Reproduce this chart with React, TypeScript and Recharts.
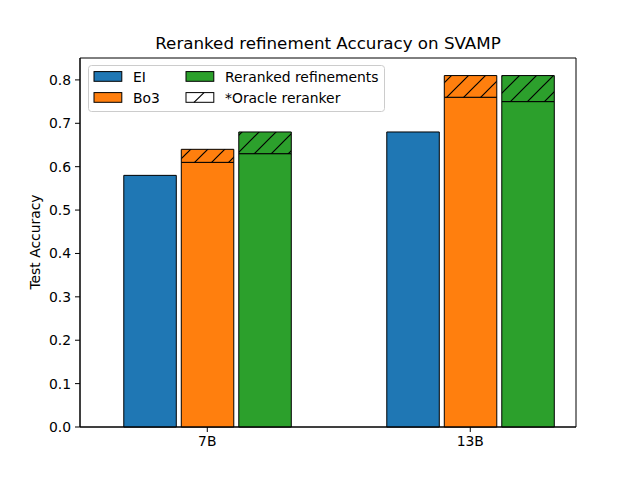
import React from "react";
import { BarChart, Bar, XAxis, YAxis, ReferenceArea } from "recharts";

const categories = ["7B", "13B"];
const eiAcc = [0.58, 0.68];
const bo3Acc = [0.61, 0.76];
const bo3OracleAcc = [0.64, 0.81];
const rerankedAcc = [0.63, 0.75];
const rerankedOracleAcc = [0.68, 0.81];
const yTicks = [0, 0.1, 0.2, 0.3, 0.4, 0.5, 0.6, 0.7, 0.8];

const COLORS = { ei: "#1f77b4", bo3: "#ff7f0e", reranked: "#2ca02c" };
const FONT = "'DejaVu Sans', sans-serif";

// stacked: base accuracy + oracle gain on top
const data = categories.map((name, i) => ({
  pos: i,
  name,
  ei: eiAcc[i],
  bo3: bo3Acc[i],
  bo3Oracle: +(bo3OracleAcc[i] - bo3Acc[i]).toFixed(4),
  reranked: rerankedAcc[i],
  rerankedOracle: +(rerankedOracleAcc[i] - rerankedAcc[i]).toFixed(4),
}));

const X_DOMAIN: [number, number] = [-0.484, 1.402];
const Y_MAX = 0.8505;

const legendItems = [
  { label: "EI", fill: COLORS.ei, col: 0, row: 0, hatch: false },
  { label: "Bo3", fill: COLORS.bo3, col: 0, row: 1, hatch: false },
  { label: "Reranked refinements", fill: COLORS.reranked, col: 1, row: 0, hatch: false },
  { label: "*Oracle reranker", fill: "#fff", col: 1, row: 1, hatch: true },
];

const Hatch = ({ id, bg }: { id: string; bg: string }) => (
  <pattern id={id} patternUnits="userSpaceOnUse" width={17} height={17}>
    <rect width={17} height={17} fill={bg} />
    <path d="M0,17 L17,0 M-4,4 L4,-4 M13,21 L21,13" stroke="#000" strokeWidth={1.2} />
  </pattern>
);

const LegendBox = () => {
  const colPatch = [6, 98];
  const colText = [45, 137];
  const rowY = [11.5, 32.5];
  return (
    <svg width={297} height={47} style={{ display: "block" }}>
      <rect x={0.5} y={0.5} width={296} height={46} rx={3} fill="#fff" fillOpacity={0.8} stroke="#cccccc" />
      {legendItems.map((it) => {
        const px = colPatch[it.col];
        const cy = rowY[it.row];
        return (
          <g key={it.label}>
            <rect x={px} y={cy - 4.9} width={27.8} height={9.7} fill={it.fill} stroke="#000" strokeWidth={1} />
            {it.hatch && (
              <line x1={px + 8} y1={cy + 4.9} x2={px + 18} y2={cy - 4.9} stroke="#000" strokeWidth={1.2} />
            )}
            <text x={colText[it.col]} y={cy} dominantBaseline="central" fontSize={13.9} fontFamily={FONT} fill="#000">
              {it.label}
            </text>
          </g>
        );
      })}
    </svg>
  );
};

const tickStyle = { fill: "#000", fontSize: 13.9, fontFamily: FONT };

export default function App() {
  return (
    <div style={{ position: "absolute", left: 0, top: 0, width: 640, height: 480, background: "#fff" }}>
      <BarChart
        width={640}
        height={480}
        data={data}
        margin={{ top: 58, right: 64, bottom: 23, left: 30 }}
        barSize={52.5}
        barGap={5}
      >
        <defs>
          <Hatch id="hatchOrange" bg={COLORS.bo3} />
          <Hatch id="hatchGreen" bg={COLORS.reranked} />
        </defs>
        <text x={328} y={49} textAnchor="middle" fontSize={16.7} fontFamily={FONT} fill="#000">
          Reranked refinement Accuracy on SVAMP
        </text>
        <XAxis
          dataKey="pos"
          type="number"
          domain={X_DOMAIN}
          allowDataOverflow
          ticks={[0, 1]}
          tickFormatter={(v) => categories[v]}
          height={30}
          tickSize={5}
          tickMargin={4}
          stroke="#000"
          tick={tickStyle}
        />
        <YAxis
          type="number"
          domain={[0, Y_MAX]}
          ticks={yTicks}
          tickFormatter={(v) => v.toFixed(1)}
          width={50}
          tickSize={5}
          tickMargin={4}
          stroke="#000"
          tick={tickStyle}
          label={{
            content: () => (
              <text
                x={35}
                y={242}
                transform="rotate(-90 35 242)"
                textAnchor="middle"
                dominantBaseline="central"
                fontSize={13.9}
                fontFamily={FONT}
                fill="#000"
              >
                Test Accuracy
              </text>
            ),
          }}
        />
        <Bar dataKey="ei" name="EI" stackId="ei" fill={COLORS.ei} stroke="#000" strokeWidth={1} isAnimationActive={false} />
        <Bar dataKey="bo3" name="Bo3" stackId="bo3" fill={COLORS.bo3} stroke="#000" strokeWidth={1} isAnimationActive={false} />
        <Bar dataKey="bo3Oracle" stackId="bo3" fill="url(#hatchOrange)" stroke="#000" strokeWidth={1} isAnimationActive={false} />
        <Bar dataKey="reranked" name="Reranked refinements" stackId="rr" fill={COLORS.reranked} stroke="#000" strokeWidth={1} isAnimationActive={false} />
        <Bar dataKey="rerankedOracle" stackId="rr" fill="url(#hatchGreen)" stroke="#000" strokeWidth={1} isAnimationActive={false} />
        <ReferenceArea
          x1={X_DOMAIN[0]}
          x2={X_DOMAIN[1]}
          y1={0}
          y2={Y_MAX}
          fill="none"
          stroke="#000"
          strokeWidth={1}
          ifOverflow="visible"
        />
      </BarChart>
      <div style={{ position: "absolute", left: 88, top: 65 }}>
        <LegendBox />
      </div>
    </div>
  );
}
